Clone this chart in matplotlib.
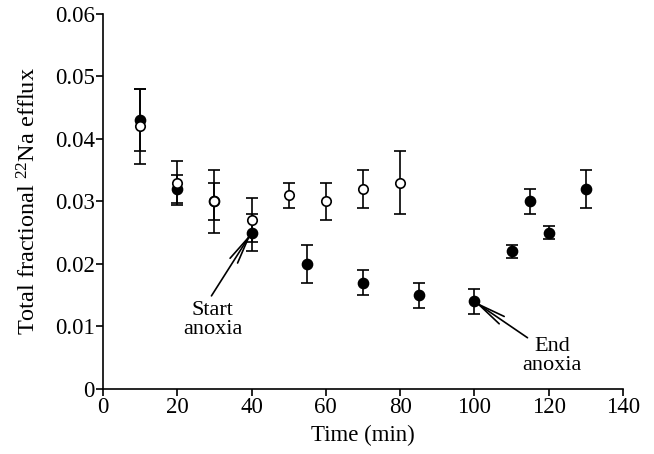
import matplotlib
matplotlib.use('Agg')
import matplotlib.pyplot as plt

# Filled circles (anoxia series)
filled_time = [10, 20, 30, 40, 55, 70, 85, 100, 110, 115, 120, 130]
filled_efflux = [0.043, 0.032, 0.030, 0.025, 0.020, 0.017, 0.015, 0.014, 0.022, 0.030, 0.025, 0.032]
filled_err = [0.005, 0.0022, 0.003, 0.003, 0.003, 0.002, 0.002, 0.002, 0.001, 0.002, 0.001, 0.003]

# Open circles (control series)
open_time = [10, 20, 30, 40, 50, 60, 70, 80]
open_efflux = [0.042, 0.033, 0.030, 0.027, 0.031, 0.030, 0.032, 0.033]
open_err = [0.006, 0.0035, 0.005, 0.0035, 0.002, 0.003, 0.003, 0.005]

plt.rcParams['font.family'] = ['Liberation Serif', 'DejaVu Serif']
plt.rcParams['mathtext.fontset'] = 'custom'
plt.rcParams['mathtext.rm'] = 'Liberation Serif'

FS = 16.5

fig = plt.figure(figsize=(6.54, 4.54), dpi=100)
ax = fig.add_axes([0.1575, 0.1432, 0.795, 0.826])

ax.errorbar(filled_time, filled_efflux, yerr=filled_err, fmt='o', color='black',
            markersize=7.4, capsize=4.2, elinewidth=1.2, capthick=1.2, zorder=3)
ax.errorbar(open_time, open_efflux, yerr=open_err, fmt='o', color='black',
            markerfacecolor='white', markeredgecolor='black', markeredgewidth=1.2,
            markersize=6.8, capsize=4.2, elinewidth=1.2, capthick=1.2, zorder=4)

arrow = dict(arrowstyle='->,head_length=2.0,head_width=0.32', color='black', lw=1.2,
             shrinkA=0, shrinkB=0)
ax.annotate('', xy=(40, 0.025), xytext=(29.2, 0.0149), arrowprops=arrow, zorder=5)
ax.text(29.5, 0.0110, 'Start\nanoxia', ha='center', va='center', fontsize=16,
        linespacing=1.0)
ax.annotate('', xy=(100, 0.014), xytext=(114.3, 0.0082), arrowprops=arrow, zorder=5)
ax.text(121, 0.0053, 'End\nanoxia', ha='center', va='center', fontsize=16,
        linespacing=1.05)

ax.set_xlim(0, 140)
ax.set_ylim(0, 0.06)
ax.set_xticks(range(0, 141, 20))
ax.set_yticks([0, 0.01, 0.02, 0.03, 0.04, 0.05, 0.06])
ax.set_yticklabels(['0', '0.01', '0.02', '0.03', '0.04', '0.05', '0.06'])

ax.spines['top'].set_visible(False)
ax.spines['right'].set_visible(False)
ax.spines['left'].set_linewidth(1.2)
ax.spines['bottom'].set_linewidth(1.2)
ax.tick_params(direction='out', length=5, width=1.2, labelsize=FS, pad=1)

ax.set_xlabel('Time (min)', fontsize=FS, labelpad=5)
ax.set_ylabel(r'Total fractional $\mathregular{^{22}}$Na efflux', fontsize=17.5, labelpad=10)

plt.savefig('out.png', dpi=100)
plt.close()
